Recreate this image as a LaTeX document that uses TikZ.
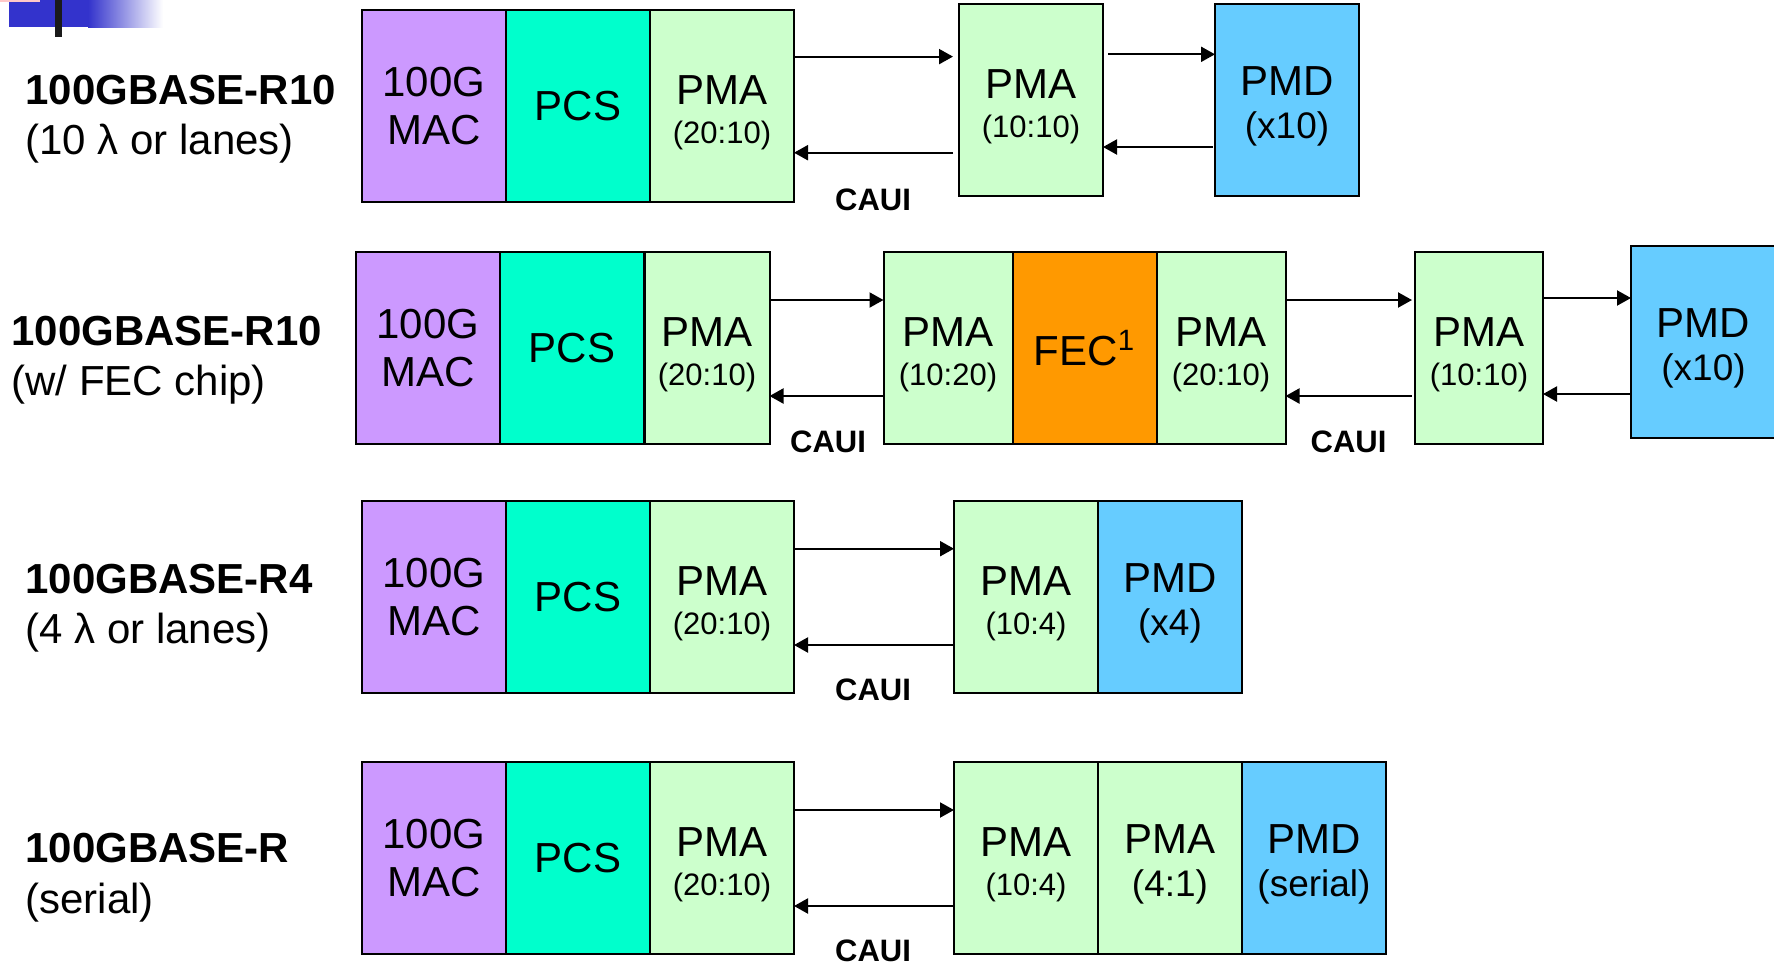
\documentclass[tikz,border=0pt]{standalone}
\usepackage{fontspec}
\setmainfont{Liberation Sans}
\usetikzlibrary{arrows.meta,calc}
\definecolor{macc}{HTML}{CC99FF}
\definecolor{pcsc}{HTML}{00FFCC}
\definecolor{pmac}{HTML}{CCFFCC}
\definecolor{pmdc}{HTML}{66CCFF}
\definecolor{fecc}{HTML}{FF9900}
\definecolor{logob}{HTML}{3333CC}
\definecolor{logop}{HTML}{FFC8C8}
\definecolor{logok}{HTML}{1A1A1A}
\newcommand\mainf{\fontsize{21}{24}\selectfont}
\newcommand\subs{\fontsize{15.5}{18}\selectfont}
\newcommand\subb{\fontsize{18.5}{22}\selectfont}
\newcommand\dn{\rule{0pt}{21pt}}
\begin{document}
\begin{tikzpicture}[x=0.5pt,y=-0.5pt,
  blk/.style={draw=black, line width=1pt, anchor=north west, minimum height=96pt,
    minimum width=72pt, inner sep=0pt, outer sep=0pt, align=center, font=\mainf, text=black},
  mac/.style={blk, fill=macc},
  pcs/.style={blk, fill=pcsc},
  pma/.style={blk, fill=pmac},
  pmd/.style={blk, fill=pmdc},
  fec/.style={blk, fill=fecc},
  arr/.style={-{Triangle[length=7pt,width=7.5pt]}, line width=1.05pt},
  caui/.style={inner sep=0pt, font=\bfseries\fontsize{15.5}{18}\selectfont},
  labb/.style={anchor=base west, inner sep=0pt, font=\bfseries\fontsize{21}{24}\selectfont},
  labr/.style={anchor=base west, inner sep=0pt, font=\fontsize{21}{24}\selectfont}]
\useasboundingbox (0,0) rectangle (1774,966);
% logo
\fill[logob] (9,0) rectangle (88,27);
\shade[left color=logob, right color=white] (88,0) rectangle (163,27);
\fill[logok] (55,0) rectangle (62,37);
\fill[logop] (0,0) rectangle (40,1.5);

% ---------- Row 1 ----------
\node[labb] (l1a) at (25,104) {100GBASE-R10};
\node[labr] (l1b) at (25,154) {(10 λ or lanes)};
\node[mac] (r1mac) at (362,10) {100G\\MAC};
\node[pcs] (r1pcs) at (506,10) {PCS};
\node[pma] (r1pma) at (650,10) {\dn PMA\\[-4.65pt]{\subs (20:10)}};
\node[pma] (r1pmb) at (959,4) {\dn PMA\\[-4.65pt]{\subs (10:10)}};
\node[pmd] (r1pmd) at (1215,4) {\dn PMD\\[-2.6pt]{\subb (x10)}};
\coordinate (r1t) at (0,56.6);
\coordinate (r1b) at (0,152.7);
\coordinate (r1t2) at (0,54.3);
\coordinate (r1b2) at (0,147);
\draw[arr] (r1pma.east |- r1t) -- ($(r1pmb.west |- r1t)+(-6,0)$);
\draw[arr] ($(r1pmb.west |- r1b)+(-6,0)$) -- (r1pma.east |- r1b);
\draw[arr] ($(r1pmb.east |- r1t2)+(5,0)$) -- (r1pmd.west |- r1t2);
\draw[arr] ($(r1pmd.west |- r1b2)+(-2,0)$) -- (r1pmb.east |- r1b2);
\node[caui] (c1) at (873,200) {CAUI};

% ---------- Row 2 ----------
\node[labb] (l2a) at (11,345) {100GBASE-R10};
\node[labr] (l2b) at (11,395) {(w/ FEC chip)};
\node[mac] (r2mac) at (356,252) {100G\\MAC};
\node[pcs] (r2pcs) at (500,252) {PCS};
\node[pma, minimum width=62.5pt] (r2pma) at (644.5,252) {\dn PMA\\[-4.65pt]{\subs (20:10)}};
\node[pma, minimum width=64.5pt] (r2pmc) at (883.5,252) {\dn PMA\\[-4.65pt]{\subs (10:20)}};
\node[fec] (r2fec) at (1012.5,252) {FEC\textsuperscript{1}};
\node[pma, minimum width=64.5pt] (r2pme) at (1156.5,252) {\dn PMA\\[-4.65pt]{\subs (20:10)}};
\node[pma, minimum width=64pt] (r2pmf) at (1415,252) {\dn PMA\\[-4.65pt]{\subs (10:10)}};
\node[pmd, minimum width=72.5pt] (r2phy) at (1631,246) {\dn PMD\\[-2.6pt]{\subb (x10)}};
\coordinate (r2t) at (0,300);
\coordinate (r2b) at (0,396);
\coordinate (r2t3) at (0,298);
\coordinate (r2b3) at (0,394);
\draw[arr] (r2pma.east |- r2t) -- (r2pmc.west |- r2t);
\draw[arr] (r2pmc.west |- r2b) -- (r2pma.east |- r2b);
\draw[arr] (r2pme.east |- r2t) -- ($(r2pmf.west |- r2t)+(-3,0)$);
\draw[arr] ($(r2pmf.west |- r2b)+(-3,0)$) -- (r2pme.east |- r2b);
\draw[arr] (r2pmf.east |- r2t3) -- (r2phy.west |- r2t3);
\draw[arr] (r2phy.west |- r2b3) -- (r2pmf.east |- r2b3);
\node[caui] (c2) at (828,442) {CAUI};
\node[caui] (c3) at (1348.5,442) {CAUI};

% ---------- Row 3 ----------
\node[labb] (l3a) at (25,593) {100GBASE-R4};
\node[labr] (l3b) at (25,643) {(4 λ or lanes)};
\node[mac] (r3mac) at (362,501) {100G\\MAC};
\node[pcs] (r3pcs) at (506,501) {PCS};
\node[pma] (r3pma) at (650,501) {\dn PMA\\[-4.65pt]{\subs (20:10)}};
\node[pma] (r3pmb) at (954,501) {\dn PMA\\[-4.65pt]{\subs (10:4)}};
\node[pmd] (r3pmd) at (1098,501) {\dn PMD\\[-2.6pt]{\subb (x4)}};
\coordinate (r3t) at (0,548.7);
\coordinate (r3b) at (0,645);
\draw[arr] (r3pma.east |- r3t) -- (r3pmb.west |- r3t);
\draw[arr] (r3pmb.west |- r3b) -- (r3pma.east |- r3b);
\node[caui] (c4) at (873,690) {CAUI};

% ---------- Row 4 ----------
\node[labb] (l4a) at (25,862) {100GBASE-R};
\node[labr] (l4b) at (25,913) {(serial)};
\node[mac] (r4mac) at (362,762) {100G\\MAC};
\node[pcs] (r4pcs) at (506,762) {PCS};
\node[pma] (r4pma) at (650,762) {\dn PMA\\[-4.65pt]{\subs (20:10)}};
\node[pma] (r4pmb) at (954,762) {\dn PMA\\[-4.65pt]{\subs (10:4)}};
\node[pma] (r4pmc) at (1098,762) {\dn PMA\\[-2.6pt]{\subb (4:1)}};
\node[pmd] (r4pmd) at (1242,762) {\dn PMD\\[-2.6pt]{\subb (serial)}};
\coordinate (r4t) at (0,810);
\coordinate (r4b) at (0,906);
\draw[arr] (r4pma.east |- r4t) -- (r4pmb.west |- r4t);
\draw[arr] (r4pmb.west |- r4b) -- (r4pma.east |- r4b);
\node[caui] (c5) at (873,951) {CAUI};
\end{tikzpicture}
\end{document}
